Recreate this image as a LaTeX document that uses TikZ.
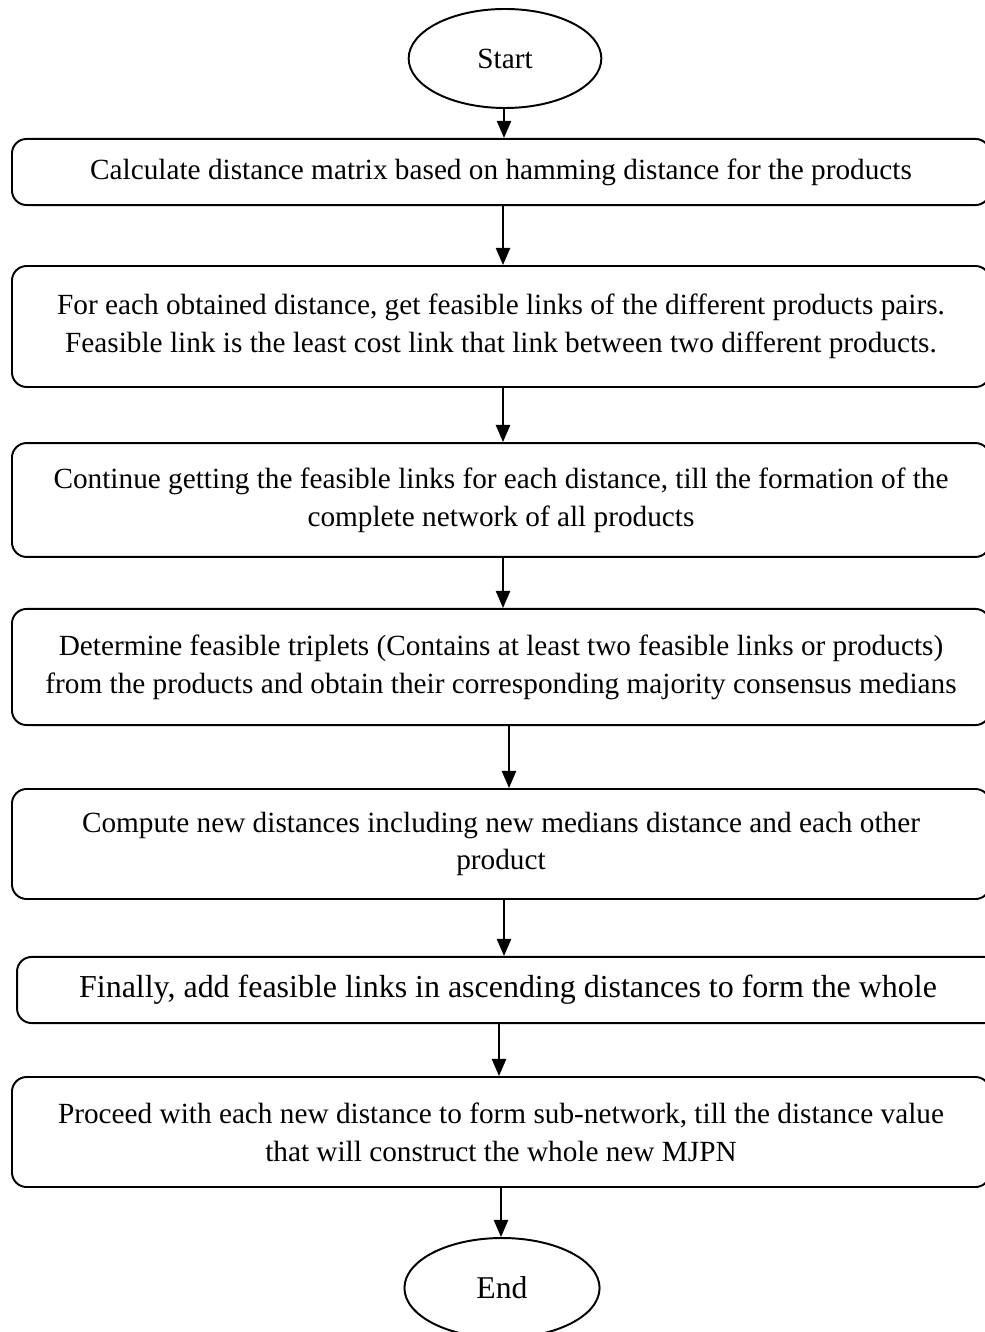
\documentclass[tikz,border=0pt]{standalone}
\usepackage{fontspec}
\setmainfont{Liberation Serif}
\usetikzlibrary{arrows.meta,shapes.geometric}
\begin{document}
\begin{tikzpicture}[x=0.41pt, y=-0.41pt, font=\fontsize{12}{15.5}\selectfont, line join=round, line cap=round, >={Triangle[length=7pt,width=5.8pt]},
	stepbox/.style={draw, line width=0.8pt, rounded corners=6pt, minimum width=401pt, align=center, inner sep=0pt},
	termbox/.style={draw, line width=0.8pt, ellipse, inner sep=0pt, minimum width=79pt, minimum height=40.6pt}]
	\useasboundingbox (0,0) rectangle (985,1332);
	\node[termbox] (start) at (505,58.5) {Start};
	\node[stepbox, minimum height=27.1pt] (b1) at (501,172) {Calculate distance matrix based on hamming distance for the products};
	\node[stepbox, minimum height=49.6pt] (b2) at (501,326.5) {For each obtained distance, get feasible links of the different products pairs.\\Feasible link is the least cost link that link between two different products.};
	\node[stepbox, minimum height=46.7pt] (b3) at (501,500) {Continue getting the feasible links for each distance, till the formation of the\\complete network of all products};
	\node[stepbox, minimum height=47.6pt] (b4) at (501,667) {Determine feasible triplets (Contains at least two feasible links or products)\\from the products and obtain their corresponding majority consensus medians};
	\node[stepbox, minimum height=45.1pt] (b5) at (501,844) {Compute new distances including new medians distance and each other\\product};
	\node[stepbox, minimum height=27.1pt, minimum width=402.6pt, font=\fontsize{13.1}{16}\selectfont] (b6) at (508,990) {Finally, add feasible links in ascending distances to form the whole};
	\node[stepbox, minimum height=45.1pt] (b7) at (501,1132) {Proceed with each new distance to form sub-network, till the distance value\\that will construct the whole new MJPN};
	\node[termbox, minimum width=80pt, minimum height=41pt, font=\fontsize{13}{16}\selectfont] (end) at (502,1288) {End};
	\foreach \a/\b/\s in {start/b1/-1,b1/b2/2,b2/b3/2,b3/b4/2,b4/b5/8,b5/b6/3,b6/b7/-9,b7/end/0}
		\draw[->, line width=0.8pt] ([xshift=\s*0.41pt]\a.south) coordinate (top) -- (top |- \b.north);
\end{tikzpicture}
\end{document}
